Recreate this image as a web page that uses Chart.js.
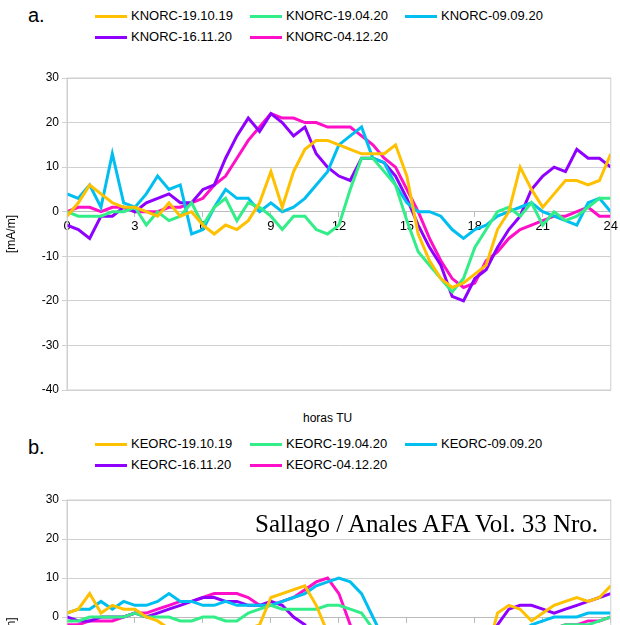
<!DOCTYPE html>
<html>
<head>
<meta charset="utf-8">
<script src="https://cdn.jsdelivr.net/npm/chart.js@4.4.0/dist/chart.umd.min.js"></script>
<style>
body { margin:0; width:620px; height:625px; overflow:hidden; background:#fff; font-family:"Liberation Sans", Arial, sans-serif; position:relative; }
canvas { position:absolute; left:0; }
.lbl { position:absolute; font-size:20px; }
.leg { position:absolute; left:95px; width:480px; font-size:13px; }
.leg span { display:inline-block; width:155px; margin-bottom:6px; white-space:nowrap; }
.leg i { display:inline-block; width:32px; height:3px; vertical-align:middle; margin-right:4px; }
.note { position:absolute; left:255px; top:510px; font-family:"Liberation Serif", serif; font-size:25px; white-space:nowrap; }
</style>
</head>
<body>
<div class="lbl" style="left:28px;top:4px">a.</div>
<div class="leg" id="legA" style="top:8px"></div>
<div style="position:absolute;left:303px;top:411px;font-size:12px">horas TU</div>
<div class="lbl" style="left:28px;top:436px">b.</div>
<div class="leg" id="legB" style="top:436px"></div>
<canvas id="chartA" width="620" height="420" style="top:0;width:620px;height:420px"></canvas>
<canvas id="chartB" width="620" height="360" style="top:430px;width:620px;height:360px"></canvas>
<div class="note">Sallago / Anales AFA Vol. 33 Nro.</div>
<script>
// horas (cada media hora)
const horas = [];
for (let i = 0; i <= 48; i++) horas.push(i / 2);

const colores = ['#ffc000', '#33ee88', '#00bff0', '#8f00ff', '#ff10c8'];
const fechas = ['19.10.19', '19.04.20', '09.09.20', '16.11.20', '04.12.20'];

// panel a - KNORC
const knorc1 = [-1,2,6,4,2,1,1,0,-1,2,-1,0,-3,-5,-3,-4,-2,2,9,1,9,14,16,16,15,14,13,13,13,15,8,-5,-11,-15,-17,-16,-14,-12,-4,0,10,5,1,4,7,7,6,7,13];
const knorc2 = [0,-1,-1,-1,0,0,1,-3,0,-2,-1,2,-3,1,3,-2,2,1,-1,-4,-1,-1,-4,-5,-3,5,12,12,9,6,-2,-9,-12,-15,-18,-15,-8,-4,0,1,-1,2,-3,0,-2,-1,1,3,3];
const knorc3 = [4,3,6,1,13,2,1,4,8,5,6,-5,-4,1,5,3,3,0,2,0,1,3,6,9,15,17,19,12,11,6,2,0,0,-1,-4,-6,-4,-3,-1,0,1,2,0,-1,-2,-3,2,3,0];
const knorc4 = [-3,-4,-6,-1,-1,1,0,2,3,4,2,2,5,6,12,17,21,18,22,20,17,19,13,10,8,7,12,12,11,8,3,-3,-8,-12,-19,-20,-15,-13,-8,-4,-1,5,8,10,9,14,12,12,10];
const knorc5 = [0,1,1,0,1,1,0,0,0,1,1,2,3,6,8,12,16,19,22,21,21,20,20,19,19,19,17,15,12,10,5,0,-6,-11,-15,-17,-16,-11,-9,-6,-4,-3,-2,-1,-1,0,1,-1,-1];

// panel b - KEORC (solo la parte visible)
const keorc1 = [1,2,6,1,3,2,2,0,-1,-3,-4,-6,-8,-9,-9,-8,-3,-2,5,6,7,8,3,-4,-12,-20,-25,-25,-25,-25,-25,-25,-25,-25,-25,-25,-20,-10,1,3,2,-1,1,3,4,5,4,5,8];
const keorc2 = [-1,-1,0,0,0,0,1,0,0,0,-1,-1,0,0,-1,-1,1,2,3,2,2,2,2,3,3,2,1,-3,-8,-15,-20,-25,-25,-25,-25,-25,-25,-25,-20,-10,-5,-3,-3,-3,-2,-2,-2,-1,0];
const keorc3 = [1,2,2,4,2,4,3,3,4,6,4,4,3,3,4,3,3,3,3,4,5,6,8,9,10,9,6,0,-6,-15,-25,-25,-25,-25,-25,-25,-25,-25,-20,-10,-4,-2,-1,0,0,0,1,1,1];
const keorc4 = [0,-1,-1,0,0,0,1,0,1,2,3,4,5,5,4,4,3,3,4,3,0,-2,-8,-15,-20,-25,-25,-25,-25,-25,-25,-25,-25,-25,-25,-25,-25,-15,-2,2,3,3,2,1,2,3,4,5,6];
const keorc5 = [-2,-2,-1,-1,-1,0,1,1,2,3,4,4,5,6,6,6,5,3,3,4,5,7,9,10,6,-2,-12,-20,-25,-25,-25,-25,-25,-25,-25,-25,-25,-25,-25,-20,-12,-8,-5,-3,-2,-2,-1,-1,0];

function puntos(vals) {
    return vals.map((v, i) => ({ x: horas[i], y: v }));
}

function leyenda(id, prefijo) {
    const el = document.getElementById(id);
    fechas.forEach((f, i) => {
        el.innerHTML += '<span><i style="background:' + colores[i] + '"></i>' + prefijo + '-' + f + '</span>';
    });
}
leyenda('legA', 'KNORC');
leyenda('legB', 'KEORC');

function grafico(id, series, prefijo, padTop, padBottom) {
    new Chart(document.getElementById(id), {
        type: 'line',
        data: {
            datasets: series.map((s, i) => ({
                label: prefijo + '-' + fechas[i],
                data: puntos(s),
                borderColor: colores[i],
                borderWidth: 3,
                pointRadius: 0,
                tension: 0
            }))
        },
        options: {
            responsive: false,
            animation: false,
            layout: { padding: { top: padTop, bottom: padBottom, right: 7, left: 0 } },
            plugins: { legend: { display: false }, tooltip: { enabled: false } },
            scales: {
                x: {
                    type: 'linear',
                    position: { y: 0 },
                    min: 0, max: 24,
                    ticks: { stepSize: 3, color: '#000', font: { size: 13, family: 'Liberation Sans' }, padding: 2 },
                    grid: { drawOnChartArea: false, tickLength: 5, color: '#bbb' },
                    border: { color: '#bbb' }
                },
                y: {
                    min: -40, max: 30,
                    ticks: { stepSize: 10, color: '#000', font: { size: 12, family: 'Liberation Sans' } },
                    grid: { color: '#d0d0d0', tickLength: 5 },
                    border: { color: '#d0d0d0' },
                    title: { display: true, text: '[mA/m]', color: '#000', font: { size: 12, family: 'Liberation Sans' } },
                    afterFit: function (s) { s.width = 67; }
                }
            }
        },
        plugins: [{
            id: 'marco',
            afterDraw(c) {
                const a = c.chartArea, ctx = c.ctx;
                ctx.save();
                ctx.strokeStyle = '#d0d0d0';
                ctx.lineWidth = 1;
                ctx.strokeRect(a.left, a.top, a.right - a.left, a.bottom - a.top);
                ctx.restore();
            }
        }]
    });
}

grafico('chartA', [knorc1, knorc2, knorc3, knorc4, knorc5], 'KNORC', 78, 30);
grafico('chartB', [keorc1, keorc2, keorc3, keorc4, keorc5], 'KEORC', 70, 17);
</script>
</body>
</html>
